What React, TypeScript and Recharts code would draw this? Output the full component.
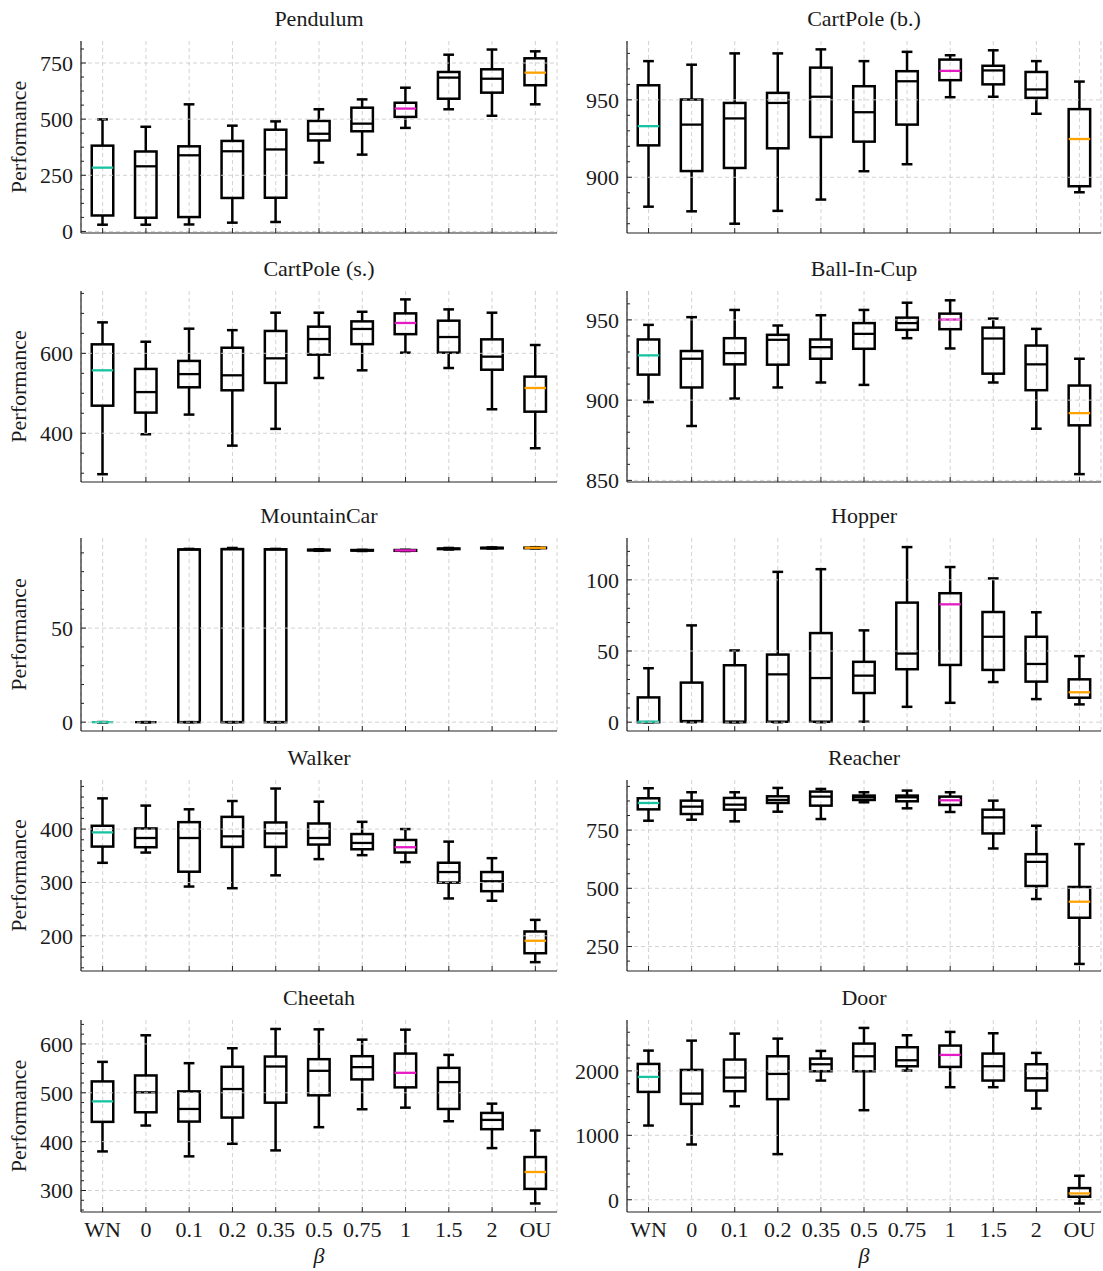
import React from 'react';
import { ComposedChart, Bar, XAxis, YAxis, CartesianGrid, ReferenceLine } from 'recharts';

const categories = ['WN', '0', '0.1', '0.2', '0.35', '0.5', '0.75', '1', '1.5', '2', 'OU'];
const medianColors = ['#17c3a0', '#000', '#000', '#000', '#000', '#000', '#000', '#e51cc4', '#000', '#000', '#ffa200'];

// each row: [lower whisker, Q1, median, Q3, upper whisker]
const pendulumStats = [
  [30, 71, 284, 382, 499],
  [30, 61, 290, 356, 466],
  [31, 64, 339, 379, 566],
  [39, 149, 357, 403, 471],
  [42, 150, 365, 453, 490],
  [307, 405, 435, 492, 544],
  [342, 446, 480, 551, 588],
  [461, 510, 547, 573, 640],
  [544, 591, 685, 710, 787],
  [515, 618, 680, 722, 810],
  [566, 651, 707, 771, 802],
];
const cartpoleBStats = [
  [881, 920.6, 933, 959.4, 975],
  [878, 904, 934, 950.2, 972.7],
  [870, 906, 938, 948, 980],
  [878.3, 918.7, 948, 954.5, 980],
  [885.6, 926, 952, 970.8, 982.6],
  [903.9, 923, 942, 958.8, 975],
  [908.4, 934, 962, 968.5, 981],
  [951.7, 962.7, 968.7, 976, 978.8],
  [952, 960, 969, 972, 982],
  [941, 951.3, 956.7, 968, 975],
  [890.3, 894.2, 924.7, 944, 961.8],
];
const cartpoleSStats = [
  [297.5, 469, 557.5, 622.5, 677.5],
  [397.5, 451.7, 503, 561, 629],
  [446.7, 515, 548, 581, 661.7],
  [369, 507.5, 545, 614, 658],
  [411, 526, 587.5, 656, 701.7],
  [538.3, 596.7, 635.8, 666.7, 701.7],
  [557.5, 623, 661, 680, 704],
  [601.7, 648, 676, 700, 735],
  [563.3, 601.7, 640.8, 681.7, 710],
  [460, 559, 591.7, 635, 701.7],
  [362.5, 454, 513.3, 541.7, 620.8],
];
const ballInCupStats = [
  [898.8, 915.9, 927.9, 937.8, 946.9],
  [883.9, 907.9, 925.8, 930.6, 951.7],
  [901, 922.3, 929.3, 938.6, 956.2],
  [907.9, 922.1, 937.6, 940.7, 946.5],
  [911, 925.8, 933, 937.8, 952.9],
  [909.5, 932, 941.3, 948, 956.2],
  [938.6, 943.8, 948, 951.4, 960.7],
  [932.2, 944.2, 950.2, 953.9, 962.2],
  [911, 916.5, 938.4, 945.2, 950.8],
  [882.2, 906.2, 922.3, 934, 944.4],
  [853.9, 884.3, 891.9, 909.1, 925.8],
];
const mountainCarStats = [
  [0, 0, 0, 0, 0],
  [0, 0, 0, 0, 0],
  [0, 0, 91.8, 91.8, 92.1],
  [0, 0, 92.0, 92.0, 92.6],
  [0, 0, 91.8, 91.9, 92.1],
  [91.1, 91.3, 91.5, 91.7, 91.9],
  [91.0, 91.2, 91.3, 91.5, 91.6],
  [91.0, 91.1, 91.3, 91.5, 91.6],
  [91.8, 92.0, 92.2, 92.3, 92.6],
  [92.3, 92.4, 92.6, 92.7, 92.9],
  [92.4, 92.5, 92.7, 92.8, 93.0],
];
const hopperStats = [
  [0, 0, 0.3, 17.4, 37.9],
  [0, 0.5, 0.8, 27.8, 68],
  [0, 0, 0.4, 40, 50.4],
  [0, 0.3, 33.6, 47.5, 105.6],
  [0, 0.3, 31, 62.6, 107.5],
  [0.3, 20.5, 32.7, 42.4, 64.5],
  [10.8, 37.2, 48.2, 84, 123],
  [13.6, 40.2, 82.8, 90.6, 109],
  [28.2, 36.7, 60, 77.4, 101],
  [16.2, 28.5, 40.9, 60, 77.2],
  [12.5, 17.2, 21, 30.1, 46.4],
];
const walkerStats = [
  [336.8, 367.2, 393.8, 406.2, 457.6],
  [356, 366, 383.3, 401.2, 444],
  [292.3, 320.1, 383.3, 413, 437.1],
  [289.2, 366.6, 386.4, 422.9, 452.6],
  [313.3, 366.6, 392, 412.4, 476],
  [343.7, 371, 383.3, 410.5, 451.4],
  [351.1, 362.2, 374, 390.7, 413.6],
  [338.1, 356, 366, 379.6, 400],
  [270, 299.7, 319.5, 336.9, 376.5],
  [265.7, 283.6, 302.2, 319.5, 345.5],
  [150.6, 167.3, 190.7, 208.1, 229.8],
];
const reacherStats = [
  [790.2, 839, 866.4, 886.5, 929.6],
  [794.5, 819, 850.6, 876.4, 912.4],
  [787.4, 837.6, 859.2, 888, 912.4],
  [829, 866.4, 879.3, 895, 931],
  [797.4, 854.9, 893.7, 915.2, 926.7],
  [869.3, 879.3, 890.8, 898, 912.4],
  [843.4, 873.6, 890.8, 898, 919.5],
  [827.6, 857.8, 877.9, 893.7, 912.4],
  [671, 735.6, 804.6, 837.6, 876.4],
  [454, 510, 613.5, 646.6, 768.7],
  [175.3, 373.6, 442.5, 505.7, 689.7],
];
const cheetahStats = [
  [380, 440.5, 482.5, 523.3, 563.3],
  [433, 460.1, 500.9, 535.5, 617.7],
  [369.9, 441.1, 466.9, 502.9, 560.6],
  [395.6, 449.3, 507.7, 553.2, 591.2],
  [382.1, 479.8, 553.8, 574.2, 630.6],
  [429.6, 494.8, 545, 568.8, 629.9],
  [466.3, 527.4, 552.5, 574.9, 608.8],
  [469.6, 511.1, 540.9, 580.3, 629.2],
  [441.8, 466.9, 521.9, 551.1, 577.6],
  [386.8, 425.5, 444.5, 458.8, 477.8],
  [273.5, 303.3, 337.9, 368.5, 422.8],
];
const doorStats = [
  [1152, 1674, 1907, 2108, 2315],
  [858, 1488, 1648, 2015, 2470],
  [1452, 1685, 1897, 2176, 2579],
  [708, 1561, 1953, 2227, 2501],
  [1850, 1995, 2103, 2191, 2310],
  [1390, 1995, 2227, 2424, 2667],
  [2005, 2072, 2165, 2367, 2553],
  [1747, 2062, 2248, 2393, 2605],
  [1747, 1850, 2072, 2269, 2584],
  [1416, 1695, 1886, 2103, 2279],
  [-57, 47, 98, 181, 372],
];

const pendulumTicks = [0, 250, 500, 750];
const cartpoleBTicks = [900, 950];
const cartpoleSTicks = [400, 600];
const ballInCupTicks = [850, 900, 950];
const mountainCarTicks = [0, 50];
const hopperTicks = [0, 50, 100];
const walkerTicks = [200, 300, 400];
const reacherTicks = [250, 500, 750];
const cheetahTicks = [300, 400, 500, 600];
const doorTicks = [0, 1000, 2000];

const FONT = '"Liberation Serif", "Times New Roman", serif';
const FS = 22;
const TEXT = '#1a1a1a';
const FRAME = '#222';
const GRID = '#cdcdcd';
const ROW_TOPS = [41, 291, 538, 780, 1020];
const ROW_BOTTOMS = [233, 482, 731, 971, 1212];
const TOP_SPACE = 40;
const Y_MARGIN = 8;
const X_MARGIN = 9;
const MAJOR_LEN = 5;
const MINOR_LEN = 3;

type PanelDef = {
  title: string;
  stats: number[][];
  domain: [number, number];
  majors: number[];
  minorStep: number;
  col: number;
  row: number;
};

const panels: PanelDef[] = [
  { title: 'Pendulum', stats: pendulumStats, domain: [-7, 848], majors: pendulumTicks, minorStep: 62.5, col: 0, row: 0 },
  { title: 'CartPole (b.)', stats: cartpoleBStats, domain: [864, 988], majors: cartpoleBTicks, minorStep: 10, col: 1, row: 0 },
  { title: 'CartPole (s.)', stats: cartpoleSStats, domain: [278, 756], majors: cartpoleSTicks, minorStep: 50, col: 0, row: 1 },
  { title: 'Ball-In-Cup', stats: ballInCupStats, domain: [849, 968], majors: ballInCupTicks, minorStep: 10, col: 1, row: 1 },
  { title: 'MountainCar', stats: mountainCarStats, domain: [-4.7, 97.9], majors: mountainCarTicks, minorStep: 10, col: 0, row: 2 },
  { title: 'Hopper', stats: hopperStats, domain: [-6.2, 129.4], majors: hopperTicks, minorStep: 10, col: 1, row: 2 },
  { title: 'Walker', stats: walkerStats, domain: [134, 492], majors: walkerTicks, minorStep: 20, col: 0, row: 3 },
  { title: 'Reacher', stats: reacherStats, domain: [145, 965], majors: reacherTicks, minorStep: 62.5, col: 1, row: 3 },
  { title: 'Cheetah', stats: cheetahStats, domain: [256, 649], majors: cheetahTicks, minorStep: 20, col: 0, row: 4 },
  { title: 'Door', stats: doorStats, domain: [-190, 2790], majors: doorTicks, minorStep: 200, col: 1, row: 4 },
];

function allTicks(domain: [number, number], step: number): number[] {
  const out: number[] = [];
  const start = Math.ceil(domain[0] / step);
  const end = Math.floor(domain[1] / step);
  for (let k = start; k <= end; k++) out.push(Math.round(k * step * 1000) / 1000);
  return out;
}

const isMajor = (v: number, majors: number[]) => majors.some((m) => Math.abs(m - v) < 1e-6);

const BoxShape = (props: any) => {
  const { x, y, width, height, payload } = props;
  if (x == null || y == null) return null;
  const top = Math.min(y, y + height);
  const bottom = Math.max(y, y + height);
  const lo = payload.lo;
  const hi = payload.hi;
  const px = (v: number) => (hi === lo ? top : bottom - ((v - lo) / (hi - lo)) * (bottom - top));
  const cx = x + width / 2;
  const bw = width * 0.5;
  const cw = width * 0.25;
  const yq1 = px(payload.q1);
  const yq3 = px(payload.q3);
  const ymed = px(payload.med);
  const sw = 2.5;
  return (
    <g>
      <line x1={cx} x2={cx} y1={bottom} y2={yq1} stroke="#000" strokeWidth={sw} />
      <line x1={cx} x2={cx} y1={yq3} y2={top} stroke="#000" strokeWidth={sw} />
      <line x1={cx - cw / 2} x2={cx + cw / 2} y1={bottom} y2={bottom} stroke="#000" strokeWidth={sw} />
      <line x1={cx - cw / 2} x2={cx + cw / 2} y1={top} y2={top} stroke="#000" strokeWidth={sw} />
      <rect x={cx - bw / 2} y={yq3} width={bw} height={Math.max(0, yq1 - yq3)} fill="none" stroke="#000" strokeWidth={sw} />
      <line x1={cx - bw / 2} x2={cx + bw / 2} y1={ymed} y2={ymed} stroke={payload.color} strokeWidth={2.3} />
    </g>
  );
};

function Panel({ def }: { def: PanelDef }) {
  const { title, stats, domain, majors, minorStep, col, row } = def;
  const last = row === 4;
  const left = col === 0 ? 0 : 560;
  const width = col === 0 ? 560 : 543;
  const yAxisW = col === 0 ? 81 : 67;
  const marginRight = col === 0 ? 3 : 2;
  const plotW = width - yAxisW - marginRight;
  const plotTop = ROW_TOPS[row];
  const plotH = ROW_BOTTOMS[row] - plotTop;
  const bottomH = last ? 58 : 14;
  const height = TOP_SPACE + plotH + bottomH;
  const ticks = allTicks(domain, minorStep);

  const data = categories.map((cat, i) => ({
    cat,
    lo: stats[i][0],
    q1: stats[i][1],
    med: stats[i][2],
    q3: stats[i][3],
    hi: stats[i][4],
    color: medianColors[i],
  }));

  const yTickLeft = (p: any) => {
    const v = p.payload.value;
    const maj = isMajor(v, majors);
    const ax = p.x + Y_MARGIN;
    return (
      <g>
        <line x1={ax} x2={ax + (maj ? MAJOR_LEN : MINOR_LEN)} y1={p.y} y2={p.y} stroke={FRAME} strokeWidth={1} />
        {maj && (
          <text x={p.x} y={p.y} dy="0.36em" textAnchor="end" fontFamily={FONT} fontSize={FS} fill={TEXT}>
            {v}
          </text>
        )}
      </g>
    );
  };
  const yTickRight = (p: any) => {
    const v = p.payload.value;
    const maj = isMajor(v, majors);
    return <line x1={p.x - (maj ? MAJOR_LEN : MINOR_LEN)} x2={p.x} y1={p.y} y2={p.y} stroke={FRAME} strokeWidth={1} />;
  };
  const xTickBottom = (p: any) => {
    const ay = p.y - X_MARGIN;
    return (
      <g>
        <line x1={p.x} x2={p.x} y1={ay} y2={ay - MAJOR_LEN} stroke={FRAME} strokeWidth={1} />
        {last && (
          <text x={p.x} y={p.y} dy="0.71em" textAnchor="middle" fontFamily={FONT} fontSize={FS} fill={TEXT}>
            {p.payload.value}
          </text>
        )}
      </g>
    );
  };
  const xTickTop = (p: any) => (
    <line x1={p.x} x2={p.x} y1={p.y} y2={p.y + MAJOR_LEN} stroke={FRAME} strokeWidth={1} />
  );

  const betaLabel = (p: any) => {
    const vb = p.viewBox || {};
    return (
      <text x={vb.x + vb.width / 2} y={vb.y + 51} textAnchor="middle" fontFamily={FONT} fontStyle="italic" fontSize={FS} fill={TEXT}>
        β
      </text>
    );
  };
  const yLabel = (p: any) => {
    const vb = p.viewBox || {};
    const cx = 18;
    const cy = vb.y + vb.height / 2;
    const plotLeft = vb.x + vb.width;
    return (
      <g>
        <text x={plotLeft + plotW / 2} y={vb.y - 15} textAnchor="middle" fontFamily={FONT} fontSize={FS} fill={TEXT}>
          {title}
        </text>
        {col === 0 && (
          <text x={cx} y={cy} dy="0.35em" textAnchor="middle" transform={`rotate(-90, ${cx}, ${cy})`} fontFamily={FONT} fontSize={FS} fill={TEXT}>
            Performance
          </text>
        )}
      </g>
    );
  };

  return (
    <div style={{ position: 'absolute', left, top: plotTop - TOP_SPACE }}>
      <ComposedChart
        width={width}
        height={height}
        data={data}
        margin={{ top: TOP_SPACE, right: marginRight, bottom: 0, left: 0 }}
        barCategoryGap={0}
        barGap={0}
      >
        <CartesianGrid horizontal={false} vertical={true} stroke={GRID} strokeDasharray="4 3" strokeWidth={0.9} />
        {majors.map((m) => (
          <ReferenceLine key={m} y={m} stroke={GRID} strokeDasharray="4 3" strokeWidth={0.9} />
        ))}
        <XAxis
          dataKey="cat"
          type="category"
          scale="band"
          height={bottomH}
          interval={0}
          tickSize={0}
          tickMargin={X_MARGIN}
          tickLine={false}
          axisLine={{ stroke: FRAME, strokeWidth: 1.2 }}
          tick={xTickBottom}
          label={last ? betaLabel : undefined}
        />
        <XAxis
          xAxisId="top"
          orientation="top"
          dataKey="cat"
          type="category"
          scale="band"
          height={0}
          interval={0}
          tickSize={0}
          tickMargin={0}
          tickLine={false}
          axisLine={{ stroke: FRAME, strokeWidth: 1.2 }}
          tick={xTickTop}
        />
        <YAxis
          type="number"
          domain={domain}
          allowDataOverflow={true}
          ticks={ticks}
          interval={0}
          width={yAxisW}
          tickSize={0}
          tickMargin={Y_MARGIN}
          tickLine={false}
          axisLine={{ stroke: FRAME, strokeWidth: 1.2 }}
          tick={yTickLeft}
          label={yLabel}
        />
        <YAxis
          yAxisId="right"
          orientation="right"
          type="number"
          domain={domain}
          allowDataOverflow={true}
          ticks={ticks}
          interval={0}
          width={0}
          tickSize={0}
          tickMargin={0}
          tickLine={false}
          axisLine={{ stroke: FRAME, strokeWidth: 1.2 }}
          tick={yTickRight}
        />
        <Bar dataKey={(d: any) => [d.lo, d.hi]} shape={BoxShape} isAnimationActive={false} />
      </ComposedChart>
    </div>
  );
}

export default function App() {
  return (
    <div style={{ position: 'absolute', left: 0, top: 0, width: 1103, height: 1271, background: '#fff' }}>
      {panels.map((p) => (
        <Panel key={p.title} def={p} />
      ))}
    </div>
  );
}
